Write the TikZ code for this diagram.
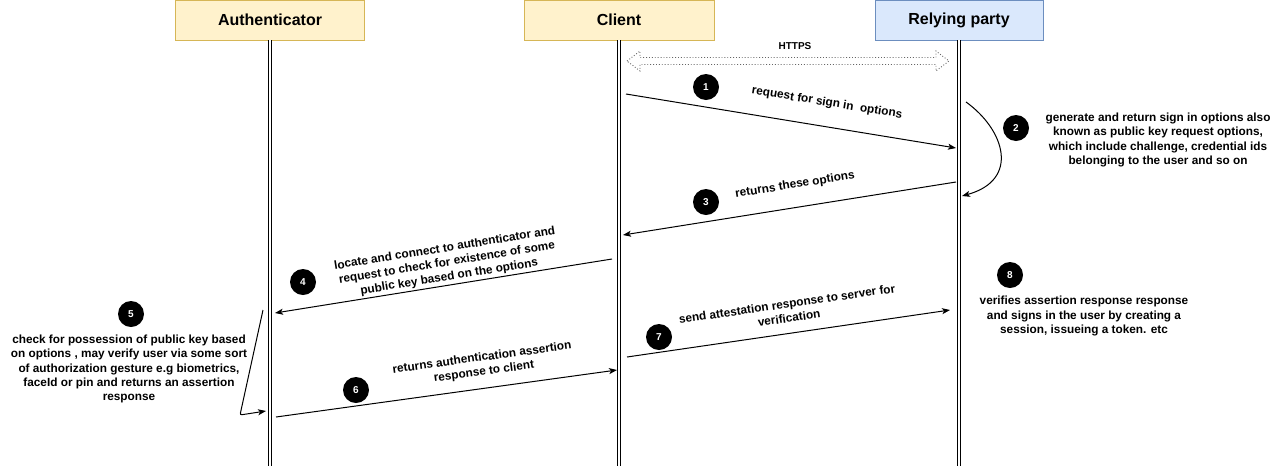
\documentclass[tikz,border=0pt]{standalone}
\usepackage{fontspec}
\setmainfont{Liberation Sans}
\usetikzlibrary{arrows.meta}
\definecolor{authfill}{HTML}{FFF2CC}
\definecolor{authline}{HTML}{D6B656}
\definecolor{rpfill}{HTML}{DAE8FC}
\definecolor{rpline}{HTML}{6C8EBF}
\begin{document}
\begin{tikzpicture}[x=1pt, y=-1pt,
  actor/.style={draw, minimum height=40, inner sep=0pt, font=\fontsize{16}{18}\selectfont\bfseries},
  lifeline/.style={double, double distance=2pt, line width=1.4pt},
  msg/.style={line width=1pt, -{Stealth[length=8pt,width=6pt,inset=2pt]}},
  num/.style={circle, fill=black, text=white, minimum size=26, inner sep=0pt, font=\fontsize{10}{12}\selectfont\bfseries},
  lbl/.style={font=\fontsize{11.8}{14.3}\selectfont\bfseries, align=center, inner sep=0pt}]
  \useasboundingbox (0,0) rectangle (1280,467);
  % participants
  \node[actor, fill=authfill, draw=authline, minimum width=189] (auth) at (270,20) {Authenticator};
  \node[actor, fill=authfill, draw=authline, minimum width=190] (client) at (619,20) {Client};
  \node[actor, fill=rpfill, draw=rpline, minimum width=168] (rp) at (959,20) {Relying party};
  \coordinate (authEnd) at (270,466);
  \coordinate (clientEnd) at (619,466);
  \coordinate (rpEnd) at (959,466);
  \draw[lifeline] (auth) -- (authEnd);
  \draw[lifeline] (client) -- (clientEnd);
  \draw[lifeline] (rp) -- (rpEnd);
  % https channel
  \node[font=\fontsize{10}{12}\selectfont\bfseries] (https) at (795,46) {HTTPS};
  \draw[gray!80!black, dotted, line width=0.9pt] (627,61) -- (640,51) -- (640,57.5) -- (936,57.5) -- (936,51)
    -- (949,61) -- (936,71) -- (936,64.5) -- (640,64.5) -- (640,71) -- cycle;
  % message end points
  \coordinate (m1s) at (626,94);   \coordinate (m1e) at (956,148);
  \coordinate (m2s) at (966,102);  \coordinate (m2e) at (962,196);
  \coordinate (m3s) at (956,182);  \coordinate (m3e) at (623,235);
  \coordinate (m4s) at (612,259);  \coordinate (m4e) at (275,313);
  \coordinate (m5s) at (263,310);  \coordinate (m5c) at (240,415);  \coordinate (m5e) at (266,411);
  \coordinate (m6s) at (276,417);  \coordinate (m6e) at (617,370);
  \coordinate (m7s) at (627,357);  \coordinate (m7e) at (950,310);
  \draw[msg] (m1s) -- (m1e);
  \draw[msg] (m2s) .. controls (1005,130) and (1020,180) .. (m2e);
  \draw[msg] (m3s) -- (m3e);
  \draw[msg] (m4s) -- (m4e);
  \draw[msg, rounded corners=2pt] (m5s) -- (m5c) -- (m5e);
  \draw[msg] (m6s) -- (m6e);
  \draw[msg] (m7s) -- (m7e);
  % step numbers
  \node[num] (n1) at (706,87) {1};
  \node[num] (n2) at (1016,128) {2};
  \node[num] (n3) at (706,202) {3};
  \node[num] (n4) at (303,282) {4};
  \node[num] (n5) at (131,314) {5};
  \node[num] (n6) at (356,390) {6};
  \node[num] (n7) at (659,337) {7};
  \node[num] (n8) at (1010,275) {8};
  % labels
  \node[lbl, rotate=-9.2] (l1) at (827,103) {request for sign in\ \ options};
  \node[lbl] (l2) at (1158,140) {generate and return sign in options also\\known as public key request options,\\which include challenge, credential ids\\belonging to the user and so on};
  \node[lbl, rotate=9] (l3) at (795,185) {returns these options};
  \node[lbl, rotate=9.1] (l4) at (447,263) {locate and connect to authenticator and\\request to check for existence of some\\public key based on the options};
  \node[lbl] (l5) at (129,369) {check for possession of public key based\\on options , may verify user via some sort\\of authorization gesture e.g biometrics,\\faceId or pin and returns an assertion\\response};
  \node[lbl, rotate=7.7] (l6) at (483,365) {returns authentication assertion\\response to client};
  \node[lbl, rotate=8.3] (l7) at (788,311) {send attestation response to server for\\verification};
  \node[lbl] (l8) at (1084,316) {verifies assertion response response\\and signs in the user by creating a\\session, issueing a token. etc};
\end{tikzpicture}
\end{document}
